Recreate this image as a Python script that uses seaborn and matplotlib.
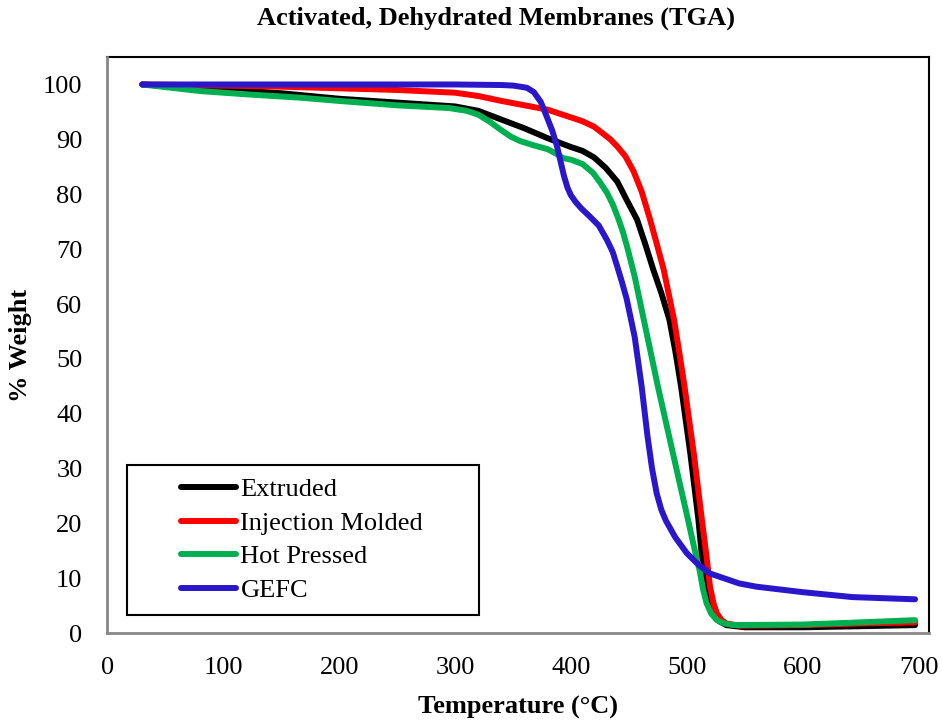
import matplotlib
matplotlib.use("Agg")
import matplotlib.pyplot as plt
from matplotlib.patches import Rectangle
import seaborn as sns
import pandas as pd

# ---- data ----
ext_T = [30, 60, 100, 150, 200, 250, 300, 320, 340, 360, 380, 400, 410, 420, 430, 440, 448, 457, 464, 471, 478, 485, 490, 495, 503, 510, 513, 516, 519, 523, 528, 534, 550, 600, 650, 697]
ext_W = [100, 99.6, 99.1, 98.4, 97.4, 96.7, 96.0, 95.2, 93.6, 92.0, 90.2, 88.6, 87.9, 86.7, 84.8, 82.3, 79.0, 75.4, 71.0, 66.3, 62.0, 57.1, 51.5, 45.0, 32.8, 20.7, 14.0, 8.5, 5.5, 3.6, 2.2, 1.5, 1.1, 1.1, 1.3, 1.5]

inj_T = [30, 100, 150, 200, 250, 300, 320, 340, 360, 380, 400, 410, 420, 428, 434, 440, 447, 454, 461, 468, 474, 480, 489, 494, 498, 506, 513, 517, 520, 523, 526, 530, 534, 545, 600, 650, 697]
inj_W = [100, 99.8, 99.6, 99.3, 99.0, 98.5, 97.9, 97.0, 96.2, 95.4, 94.0, 93.3, 92.3, 91.0, 90.0, 88.7, 86.9, 84.2, 80.5, 75.6, 71.0, 66.3, 57.1, 50.5, 45.0, 32.8, 20.7, 14.0, 8.5, 5.5, 3.6, 2.4, 1.8, 1.4, 1.5, 1.8, 2.0]

hot_T = [30, 80, 120, 166, 200, 250, 295, 310, 320, 330, 339, 348, 356, 368, 380, 388, 393, 400, 410, 419, 425, 431, 436, 441, 445, 449, 455, 460, 465, 470, 475, 488, 501, 507, 511, 514, 517, 521, 526, 532, 540, 600, 650, 697]
hot_W = [100, 98.8, 98.2, 97.6, 97.0, 96.2, 95.7, 95.2, 94.5, 93.2, 91.8, 90.5, 89.7, 88.9, 88.2, 87.3, 86.6, 86.3, 85.5, 83.9, 82.2, 80.3, 78.2, 75.5, 73.0, 70.0, 65.0, 60.0, 55.0, 50.0, 45.0, 32.8, 20.7, 15.0, 11.5, 8.0, 5.5, 3.6, 2.4, 1.8, 1.5, 1.6, 2.0, 2.4]

gefc_T = [30, 100, 200, 300, 340, 350, 362, 368, 374, 379, 384, 388, 391, 394, 397, 400, 404, 409, 416, 424, 431, 436, 440, 444, 448, 452, 455, 461, 466, 470, 474, 478, 482, 490, 500, 510, 520, 545, 560, 600, 643, 697]
gefc_W = [100, 100, 100, 100, 99.9, 99.8, 99.4, 98.6, 96.8, 94.2, 91.5, 88.7, 86.0, 83.3, 81.2, 79.8, 78.6, 77.4, 76.0, 74.3, 71.7, 69.5, 66.8, 64.0, 61.0, 57.0, 54.0, 45.0, 36.0, 30.0, 25.5, 22.5, 20.5, 17.5, 14.6, 12.5, 10.9, 9.1, 8.5, 7.5, 6.6, 6.2]

series_names = ["Extruded", "Injection Molded", "Hot Pressed", "GEFC"]
colors = ["#000000", "#FF0000", "#00B050", "#2A17CC"]

x_ticks = [0, 100, 200, 300, 400, 500, 600, 700]
y_ticks = [0, 10, 20, 30, 40, 50, 60, 70, 80, 90, 100]

frames = []
for name, T, W in zip(series_names, [ext_T, inj_T, hot_T, gefc_T], [ext_W, inj_W, hot_W, gefc_W]):
    frames.append(pd.DataFrame({"Temperature": T, "Weight": W, "Sample": name}))
df = pd.concat(frames, ignore_index=True)

# ---- style ----
sns.set_style("white")
plt.rcParams["font.family"] = ["Liberation Serif", "DejaVu Serif"]
plt.rcParams["text.color"] = "black"
plt.rcParams["axes.labelcolor"] = "black"
plt.rcParams["xtick.labelcolor"] = "black"
plt.rcParams["ytick.labelcolor"] = "black"

fig = plt.figure(figsize=(9.42, 7.21), dpi=100)
ax = fig.add_axes([0.1141, 0.1216, 0.8721, 0.7993])

sns.lineplot(data=df, x="Temperature", y="Weight", hue="Sample",
             hue_order=series_names, palette=colors, estimator=None,
             sort=False, linewidth=4.3, ax=ax, legend=False,
             solid_capstyle="round", solid_joinstyle="round")

ax.set_xlim(0, 709)
ax.set_ylim(0, 105)
ax.set_xticks(x_ticks)
ax.set_yticks(y_ticks)
ax.tick_params(axis="both", labelsize=19, direction="out", length=6, width=1.5,
               color="#888888")
ax.tick_params(axis="y", pad=12)
ax.tick_params(axis="x", pad=11)

for side in ["top", "right"]:
    ax.spines[side].set_color("black")
    ax.spines[side].set_linewidth(1.5)
for side in ["left", "bottom"]:
    ax.spines[side].set_color("#888888")
    ax.spines[side].set_linewidth(2)
    ax.spines[side].set_zorder(5)

fig.text(0.5265, 0.975, "Activated, Dehydrated Membranes (TGA)", fontsize=19,
         fontweight="bold", ha="center", va="center")
ax.set_xlabel("Temperature (°C)", fontsize=19, fontweight="bold", labelpad=12)
ax.set_ylabel("% Weight", fontsize=19, fontweight="bold", labelpad=8)

# legend
handles = [plt.Line2D([0], [0], color=c, lw=4.3, solid_capstyle="round") for c in colors]
leg = ax.legend(handles, series_names, loc="center left",
                bbox_to_anchor=(0.0895, 0.162), frameon=False, fontsize=19,
                handlelength=2.1, handletextpad=0.15, labelspacing=0.38,
                borderpad=0, borderaxespad=0)
ax.add_patch(Rectangle((0.0237, 0.0318), 0.4285, 0.2603, transform=ax.transAxes,
                       fill=True, facecolor="white", edgecolor="black",
                       linewidth=1.5, zorder=4))
leg.set_zorder(6)

fig.savefig("out.png", dpi=100)
